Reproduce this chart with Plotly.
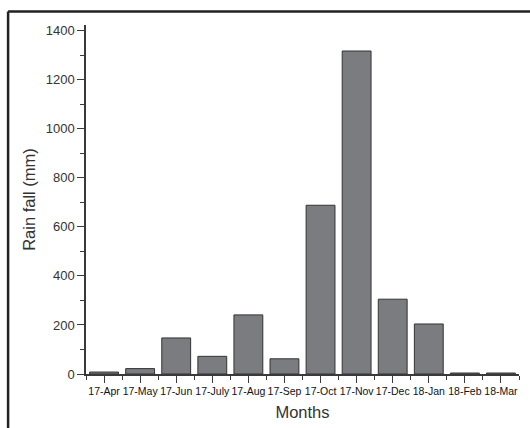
import plotly.graph_objects as go

months = ["17-Apr", "17-May", "17-Jun", "17-July", "17-Aug", "17-Sep",
          "17-Oct", "17-Nov", "17-Dec", "18-Jan", "18-Feb", "18-Mar"]
rainfall = [8, 22, 147, 72, 241, 62, 688, 1317, 305, 204, 4, 4]
y_ticks = [0, 200, 400, 600, 800, 1000, 1200, 1400]

W, H = 530, 428
L, R, T, B = 85.5, 11, 25, 54

positions = list(range(len(months)))

fig = go.Figure(go.Bar(
    x=positions, y=rainfall, width=0.8,
    marker=dict(color="#7b7c80", line=dict(color="#333333", width=1)),
    hoverinfo="skip",
))

axis_col = "#3a3a3a"
font_fam = "Liberation Sans, Arial, sans-serif"

fig.update_layout(
    width=W, height=H,
    margin=dict(l=L, r=R, t=T, b=B, pad=0, autoexpand=False),
    paper_bgcolor="white", plot_bgcolor="white",
    showlegend=False,
    font=dict(family=font_fam, color="#222222"),
    xaxis=dict(
        range=[-0.5, len(months) - 0.5],
        automargin=False,
        tickmode="array", tickvals=positions, ticktext=months,
        tickangle=0,
        ticks="outside", ticklen=7, tickwidth=1.2, tickcolor=axis_col,
        minor=dict(tickmode="linear", tick0=-0.5, dtick=1, ticks="outside",
                   ticklen=4, tickwidth=1.2, tickcolor=axis_col),
        showline=True, linecolor=axis_col, linewidth=1.5,
        showgrid=False, zeroline=False,
        tickfont=dict(size=10.5, color="#111111"),
        title=dict(text="Months", font=dict(size=16.5, color="#333333"), standoff=10),
    ),
    yaxis=dict(
        range=[0, 1423],
        automargin=False,
        tickmode="array", tickvals=y_ticks,
        ticks="outside", ticklen=7, tickwidth=1.2, tickcolor=axis_col,
        minor=dict(tickmode="linear", tick0=100, dtick=200, ticks="outside",
                   ticklen=4, tickwidth=1.2, tickcolor=axis_col),
        showline=True, linecolor=axis_col, linewidth=1.5,
        showgrid=False, zeroline=False,
        tickfont=dict(size=13, color="#333333"),
        title=dict(text="Rain fall (mm)", font=dict(size=16.5, color="#333333"), standoff=6),
    ),
)

pw = W - L - R
ph = H - T - B
def px_to_paper_x(px):
    return (px - L) / pw
def px_to_paper_y(py):
    return (H - B - py) / ph

fx, fy = 7.5, 11.5
fig.add_shape(type="line", xref="paper", yref="paper",
              x0=px_to_paper_x(fx), x1=px_to_paper_x(fx),
              y0=px_to_paper_y(fy), y1=px_to_paper_y(H + 5),
              line=dict(color="#222222", width=2.5))
fig.add_shape(type="line", xref="paper", yref="paper",
              x0=px_to_paper_x(fx), x1=px_to_paper_x(W + 5),
              y0=px_to_paper_y(fy), y1=px_to_paper_y(fy),
              line=dict(color="#222222", width=2.5))

fig.write_html(
    "out.html",
    config={"displayModeBar": False},
    post_script="document.body.style.margin='0';document.body.style.overflow='hidden';",
)
